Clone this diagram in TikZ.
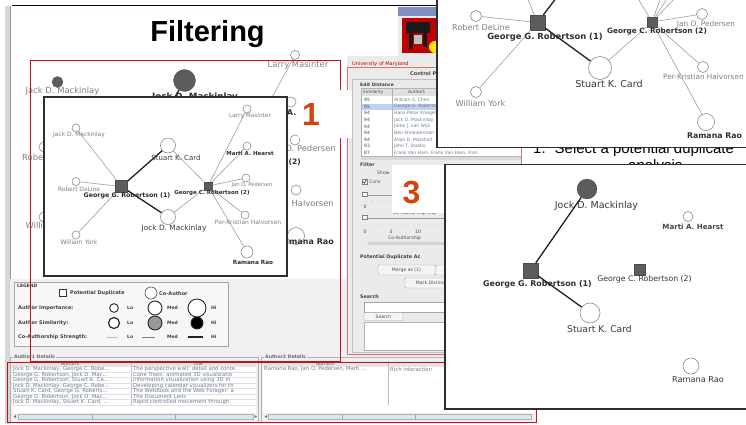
\documentclass[tikz,border=0pt]{standalone}
\usepackage{fontspec}
\setmainfont{Liberation Sans}
\newfontfamily\dv{DejaVu Sans}
\newcommand\fsz[1]{\fontsize{#1}{#1}\selectfont}
\definecolor{dupfill}{HTML}{5C5C5C}
\definecolor{redA}{HTML}{C8101A}
\definecolor{redB}{HTML}{E07070}
\definecolor{numred}{HTML}{D4420E}
\definecolor{rowtxt}{HTML}{6F7C92}
\definecolor{selrow}{HTML}{BFD2EC}
\definecolor{scrl}{HTML}{DCE6F2}
\definecolor{hdr}{HTML}{7D8FC4}
\begin{document}
\begin{tikzpicture}[x=1pt,y=-1pt,
  coauth/.style={circle, draw=black!45, fill=white, line width=0.6pt, inner sep=0pt, minimum size=#1},
  dupl/.style={rectangle, fill=dupfill, draw=black!70, line width=0.3pt, inner sep=0pt, minimum size=#1},
  bigauth/.style={circle, fill=dupfill, draw=black!70, line width=0.3pt, inner sep=0pt, minimum size=#1},
  gedge/.style={draw=black!38, line width=0.6pt},
  sedge/.style={draw=black!88, line width=1.3pt},
  glab/.style={inner sep=0pt, text=black!50, font=\dv\fsz{#1}},
  dlab/.style={inner sep=0pt, text=black!78, font=\dv\fsz{#1}},
  blab/.style={inner sep=0pt, text=black!82, font=\dv\bfseries\fsz{#1}},
  ovbox/.style={draw=black!82, line width=1.3pt, fill=white},
  redframe/.style={draw=redA, line width=0.9pt},
  ui/.style={inner sep=0pt, anchor=west, text=black!70, font=\dv\fsz{#1}},
  uib/.style={inner sep=0pt, anchor=west, text=black!75, font=\dv\bfseries\fsz{#1}},
  rowt/.style={inner sep=0pt, anchor=west, text=rowtxt, font=\dv\fsz{5.3}},
  btn/.style={draw=black!35, fill=black!4, rounded corners=1pt, inner sep=0pt, text=black!70, font=\dv\fsz{4.6}},
  numlab/.style={inner sep=0pt, anchor=base, text=numred, font=\bfseries\fsz{32}},
  legc/.style={circle, draw=black!85, line width=0.9pt, fill=white, inner sep=0pt, minimum size=#1},
]
\useasboundingbox (0,0) rectangle (746,424);
\fill[white] (0,0) rectangle (746,424);

% ---------- application window ----------
\fill[black!16] (5,6) rectangle (10,424);
\draw[black!40, line width=0.5pt] (10.2,6) -- (10.2,424);
\draw[black!85!blue, line width=1.6pt] (12,5.5) -- (437,5.5);
\fill[black!6] (10,279) rectangle (347,424);
\fill[black!6] (347,356) rectangle (536,424);

% logo
\fill[hdr] (398,7) rectangle (437,16);
\fill[black!8] (398,16) rectangle (437,56);
\fill[red!75!black] (402,18) rectangle (437,53);
\fill[black!90] (406,22) rectangle (430,33);
\fill[black!90] (409,33) rectangle (413,49);
\fill[black!90] (423,33) rectangle (427,47);
\fill[black!25] (414,35) rectangle (422,44);
\begin{scope}
  \clip (402,18) rectangle (437,53);
  \fill[yellow!90!orange] (435,47) circle (6);
\end{scope}

% ---------- background graph ----------
\node[bigauth=22] (bgJock) at (184.5,80.5) {};
\coordinate (bgG1) at (150,140);
\draw[sedge] (bgJock) -- (bgG1);
\node[blab=8.7, anchor=base] (bgJockL) at (195,99.5) {Jock D. Mackinlay};
\node[bigauth=11] (bgJack) at (57.5,82) {};
\node[glab=8.4] (bgJackL) at (62.5,91) {Jack D. Mackinlay};
\node[coauth=9] (bgLarry) at (295,55) {};
\coordinate (bgG2) at (224,186);
\draw[gedge] (bgLarry) -- (bgG2);
\node[glab=8.4] (bgLarryL) at (298,65) {Larry Masinter};
\node[coauth=10] (bgRob) at (44,147) {};
\node[glab=8.4] (bgRobL) at (52,157) {Robert DeLine};
\node[coauth=10] (bgWill) at (44,217) {};
\node[glab=8.4] (bgWillL) at (51,225) {William York};
\node[coauth=10] (bgMarti) at (291,102) {};
\node[blab=8, anchor=east] (bgMartiL) at (296.5,113) {A.};
\node[coauth=10] (bgJan) at (295,140) {};
\node[glab=8.4, anchor=east] (bgJanL) at (336,149) {Jan O. Pedersen};
\node[blab=7.5, anchor=east] (bgG2L) at (301,162) {George C. Robertson (2)};
\node[coauth=10] (bgPer) at (296,190) {};
\node[glab=8.4, anchor=east] (bgPerL) at (334,203) {Per-Kristian Halvorsen};
\node[coauth=17] (bgRam) at (296,236) {};
\node[blab=8, anchor=east] (bgRamL) at (334,242) {Ramana Rao};

% ---------- control panel ----------
\fill[black!8] (347,56) rectangle (521,356);
\node[ui=5, text=red!75!black] (cpUni) at (352,64) {University of Maryland};
\node[uib=5] (cpTitle) at (410,74) {Control Panel};
\draw[black!25] (352,79) rectangle (521,352);
\node[uib=4.5] (cpEdit) at (360,84.5) {Edit Distance};
\fill[white] (361,88.5) rectangle (521,156);
\fill[black!12] (361,88.6) rectangle (521,96);
\fill[selrow] (361,103.5) rectangle (521,109.8);
\draw[black!30, line width=0.4pt] (361,88.5) rectangle (521,156);
\draw[black!30, line width=0.3pt] (392,88.5) -- (392,156);
\node[ui=4.3] (cpH1) at (363,92.3) {Similarity};
\node[ui=4.3] (cpH2) at (408,92.3) {Author1};
\foreach \i/\s/\n in {0/95/{William S. Chen},1/95/{George G. Robertson},2/94/{Hans-Peter Kriegel},3/94/{Jack D. Mackinlay},4/94/{Jarke J. van Wijk},5/94/{Ben Shneiderman},6/94/{Allan D. Marshall},7/93/{John T. Stasko},8/87/{Frank Van Ham, Frank Van Ham, Fran}}{
  \pgfmathsetmacro\yy{100+6.6*\i}
  \node[ui=4.5] (cps\i) at (364,\yy) {\s};
  \node[ui=4.5, text=rowtxt] (cpa\i) at (394,\yy) {\n};
}
\fill[black!15] (361,156.5) rectangle (521,160);
\node[uib=4.8] (cpFilter) at (360,165) {Filter};
\node[ui=4.6] (cpShow) at (377,172.5) {Show};
\node[draw=black!50, fill=white, inner sep=0pt, minimum size=5pt, line width=0.4pt] (cpChk) at (364.5,181.5) {};
\draw[black!80, line width=0.6pt] (362.8,181.5) -- (364.3,183.2) -- (366.4,179.6);
\node[ui=4.6] (cpCons) at (369,181.5) {Cons};
\draw[black!40, line width=0.8pt] (362,195) -- (445,195);
\filldraw[fill=white, draw=black!50, line width=0.4pt] (362,192.5) rectangle (367,196.5);
\foreach \x in {366,372,...,444}{\fill[black!45] (\x,201.5) circle (0.45);}
\node[ui=4.6] (cpZ1) at (363.5,207) {0};
\node[ui=4.6] (cpCAI) at (393,213) {Co-Authorship Imp};
\draw[black!40, line width=0.8pt] (362,218) -- (445,218);
\filldraw[fill=white, draw=black!50, line width=0.4pt] (362,215.5) rectangle (367,219.5);
\foreach \x in {366,372,...,444}{\fill[black!45] (\x,225) circle (0.45);}
\node[ui=4.6] (cpZ2) at (363.5,232) {0};
\node[ui=4.6] (cpF5) at (389.5,232) {5};
\node[ui=4.6] (cpF10) at (415,232) {10};
\node[ui=4.6] (cpCAS) at (388,238) {Co-Authorship};
\fill[black!18] (368,241.5) rectangle (445,244.5);
\node[uib=4.8] (cpPDA) at (360,257) {Potential Duplicate Ac};
\node[btn, minimum width=57pt, minimum height=10pt] (cpMerge1) at (406.5,270) {Merge as (1)};
\node[btn, minimum width=20pt, minimum height=10pt] (cpMerge2) at (446,270) {};
\node[btn, minimum width=52pt, minimum height=10pt] (cpMark) at (431,283) {Mark Distinct};
\node[uib=4.8] (cpSearchL) at (360,297) {Search};
\draw[black!35, fill=white] (364,302) rectangle (446,312);
\node[btn, minimum width=39pt, minimum height=8pt] (cpSearchB) at (383.5,316.5) {Search};
\draw[black!30, fill=white] (364,322) rectangle (446,350);

% ---------- legend ----------
\draw[black!35, fill=black!3] (14,282) rectangle (228,346);
\node[uib=4.5] (legT) at (17,286) {LEGEND};
\node[draw=black!80, fill=white, inner sep=0pt, minimum size=7pt, line width=0.6pt] (legSq) at (63,293) {};
\node[uib=5] (legPD) at (70,293.5) {Potential Duplicate};
\node[legc=12, line width=0.6pt, draw=black!70] (legCA) at (151,293) {};
\node[uib=5] (legCAt) at (159,293.5) {Co-Author};
\node[uib=5] (legAI) at (18,308) {Author Importance:};
\node[uib=5] (legAS) at (18,323) {Author Similarity:};
\node[uib=5] (legCS) at (18,337) {Co-Authorship Strength:};
\node[legc=8.7] (legI1) at (114,308) {};
\node[legc=14] (legI2) at (155,308) {};
\node[legc=18] (legI3) at (197,308) {};
\node[legc=11, line width=1.2pt] (legS1) at (114,323) {};
\node[legc=14, fill=black!40] (legS2) at (155,323) {};
\node[legc=12, fill=black] (legS3) at (197,323) {};
\draw[black!25, line width=0.5pt] (106,337) -- (118,337);
\draw[black!50, line width=0.9pt] (142,337) -- (155,337);
\draw[black!85, line width=1.6pt] (188,337) -- (203,337);
\foreach \yy/\k in {308/a,323/b,337/c}{
  \node[uib=4.5] (lo\k) at (127,\yy) {Lo};
  \node[uib=4.5] (me\k) at (167,\yy) {Med};
  \node[uib=4.5] (hi\k) at (211,\yy) {Hi};
}

% ---------- author details ----------
\draw[black!30] (10,357) rectangle (258,422);
\node[uib=4.6, fill=black!6, inner xsep=1pt, text=black!60] (d1T) at (13,357) {Author1 Details};
\fill[white] (12,361) rectangle (256,413);
\fill[black!10] (12,361) rectangle (256,366.5);
\draw[black!25, line width=0.3pt] (131,361) -- (131,405);
\node[ui=4.6, anchor=center] (d1H1) at (70,363.8) {Authors};
\node[ui=4.6, anchor=center] (d1H2) at (198,363.8) {Title};
\begin{scope}
\clip (12,366) rectangle (256,406);
\foreach \i/\a/\t in {0/{Jock D. Mackinlay, George C. Robe...}/{The perspective wall: detail and conte},
  1/{George G. Robertson, Jock D. Mac...}/{Cone Trees: animated 3D visualizatio},
  2/{George G. Robertson, Stuart K. Ca...}/{Information visualization using 3D in},
  3/{Jock D. Mackinlay, George C. Robe...}/{Developing calendar visualizers for th},
  4/{Stuart K. Card, George G. Roberts...}/{The WebBook and the Web Forager: a},
  5/{George G. Robertson, Jock D. Mac...}/{The Document Lens},
  6/{Jock D. Mackinlay, Stuart K. Card, ...}/{Rapid controlled movement through}}{
  \pgfmathsetmacro\yy{369.3+5.5*\i}
  \draw[black!12, line width=0.3pt] (12,\yy+2.75) -- (256,\yy+2.75);
  \node[rowt] (d1a\i) at (13,\yy) {\a};
  \node[rowt] (d1t\i) at (133,\yy) {\t};
}
\end{scope}
\draw[black!30, fill=scrl] (18,414) rectangle (253,419);
\draw[black!35] (92,414) -- (92,419) (175,414) -- (175,419);
\fill[black!55] (13.5,416.5) -- (16,415) -- (16,418) -- cycle;
\fill[black!55] (257,416.5) -- (254.5,415) -- (254.5,418) -- cycle;

\draw[black!30] (261,357) rectangle (536,422);
\node[uib=4.6, fill=black!6, inner xsep=1pt, text=black!60] (d2T) at (264,357) {Author2 Details};
\fill[white] (263,361) rectangle (534,413);
\fill[black!10] (263,361) rectangle (534,366.5);
\draw[black!25, line width=0.3pt] (388,361) -- (388,405);
\node[ui=4.6, anchor=center] (d2H1) at (325,363.8) {Authors};
\node[rowt] (d2a0) at (264,369.3) {Ramana Rao, Jan O. Pedersen, Marti ...};
\node[rowt] (d2t0) at (390,369.3) {Rich interaction};
\draw[black!30, fill=scrl] (268,414) rectangle (531,419);
\draw[black!35] (342,414) -- (342,419) (415,414) -- (415,419);
\fill[black!55] (264.5,416.5) -- (267,415) -- (267,418) -- cycle;

% ---------- red annotation frames ----------
\draw[redframe] (30,60) rectangle (340,361.5);
\draw[draw=redB, line width=0.9pt] (347.5,67) rectangle (521,354);
\draw[redframe] (7,362.5) rectangle (536,422);

% ---------- slide text and title ----------
\node[anchor=base, inner sep=0pt, font=\bfseries\fsz{29}] (title) at (207.5,41) {Filtering};
\node[anchor=base west, inner sep=0pt, font=\fsz{15}] (sel1) at (533,153.5) {1.\hspace{9pt}Select a potential duplicate};
\node[anchor=base west, inner sep=0pt, font=\fsz{15}] (sel2) at (628,170.5) {analysis};

\fill[white] (298,90) rectangle (352,138);
\fill[white] (392,165) rectangle (445,213);

% ---------- overlay box 1 ----------
\draw[ovbox] (44,97) rectangle (287,276);
\node[dupl=12] (G1a) at (121.5,186.5) {};
\node[dupl=8.5] (G2a) at (208,186) {};
\node[coauth=15] (Sa) at (168,145.5) {};
\node[coauth=15] (Ja) at (168,217) {};
\node[coauth=8] (Jka) at (76,128) {};
\node[coauth=8] (Ra) at (76,181.5) {};
\node[coauth=8] (Wa) at (76,235) {};
\node[coauth=8] (La) at (247,109) {};
\node[coauth=8] (Ma) at (247,146) {};
\node[coauth=8] (Pa) at (246,178) {};
\node[coauth=8] (Ha) at (245,215) {};
\node[coauth=12] (Rra) at (247,252) {};
\foreach \n in {Jka,Ra,Wa}{\draw[gedge] (G1a) -- (\n);}
\draw[sedge] (G1a) -- (Sa);
\draw[sedge] (G1a) -- (Ja);
\draw[gedge] (Sa) -- (G2a);
\draw[gedge] (Ja) -- (G2a);
\foreach \n in {La,Ma,Pa,Ha,Rra}{\draw[gedge] (G2a) -- (\n);}
\node[glab=5.9] (JkaL) at (79,135) {Jack D. Mackinlay};
\node[glab=5.9] (RaL) at (79,189) {Robert DeLine};
\node[glab=6.1] (WaL) at (79,242) {William York};
\node[blab=6.3] (G1aL) at (127,196) {George G. Robertson (1)};
\node[blab=5.5] (G2aL) at (212,193) {George C. Robertson (2)};
\node[dlab=7] (SaL) at (176,158) {Stuart K. Card};
\node[dlab=7.4] (JaL) at (174,228.5) {Jock D. Mackinlay};
\node[glab=5.8] (LaL) at (250,116) {Larry Masinter};
\node[blab=5.5] (MaL) at (250,153) {Marti A. Hearst};
\node[glab=5.2] (PaL) at (252,185) {Jan O. Pedersen};
\node[glab=6] (HaL) at (248,222) {Per-Kristian Halvorsen};
\node[blab=5.7] (RraL) at (253,262) {Ramana Rao};

% ---------- overlay box 2 ----------
\draw[ovbox] (437,-5) rectangle (752,147.5);
\begin{scope}
\clip (437.7,-5) rectangle (746,146.8);
\node[dupl=15] (G1b) at (537.5,22.5) {};
\node[dupl=10.5] (G2b) at (652,22) {};
\node[coauth=11] (Rb) at (476,16) {};
\node[coauth=11] (Wb) at (476,92) {};
\node[coauth=23] (Sb) at (600,68) {};
\node[coauth=11] (Pb) at (702,14) {};
\node[coauth=11] (Hb) at (703,67) {};
\node[coauth=17] (Rrb) at (706,122) {};
\coordinate (tb1) at (527,-3);
\coordinate (tb2) at (557,-3);
\coordinate (tb3) at (637,-3);
\coordinate (tb4) at (661,-3);
\coordinate (tb5) at (668,-3);
\coordinate (tb6) at (676,-3);
\draw[gedge] (G1b) -- (Rb);
\draw[gedge] (G1b) -- (Wb);
\draw[gedge] (G1b) -- (tb1);
\draw[sedge] (G1b) -- (tb2);
\draw[sedge] (G1b) -- (Sb);
\draw[gedge] (Sb) -- (G2b);
\foreach \n in {Pb,Hb,Rrb,tb3,tb4,tb5,tb6}{\draw[gedge] (G2b) -- (\n);}
\node[glab=8.1] (RbL) at (481,27) {Robert DeLine};
\node[blab=8.4] (G1bL) at (545,37) {George G. Robertson (1)};
\node[blab=7.3] (G2bL) at (657,32) {George C. Robertson (2)};
\node[glab=7.4] (PbL) at (706,24.5) {Jan O. Pedersen};
\node[glab=8.2] (WbL) at (480.5,103) {William York};
\node[dlab=9.6] (SbL) at (609,83.5) {Stuart K. Card};
\node[glab=7.3, anchor=west] (HbL) at (663,77) {Per-Kristian Halvorsen};
\node[blab=7.8] (RrbL) at (714.5,136) {Ramana Rao};
\end{scope}

% ---------- overlay box 3 ----------
\draw[ovbox] (445,164.5) rectangle (752,409);
\node[bigauth=20] (Jc) at (587,189) {};
\node[coauth=10] (Mc) at (688,216.5) {};
\node[dupl=15] (G1c) at (530.5,270.5) {};
\node[dupl=10.5] (G2c) at (639.5,269.5) {};
\node[coauth=20] (Sc) at (590,313) {};
\node[coauth=16] (Rrc) at (691,366) {};
\draw[sedge] (G1c) -- (Jc);
\draw[sedge] (G1c) -- (Sc);
\node[dlab=9.5] (JcL) at (596.5,205.5) {Jock D. Mackinlay};
\node[blab=7.1, text=black!72] (McL) at (693,227) {Marti A. Hearst};
\node[blab=7.9] (G1cL) at (537.5,284.5) {George G. Robertson (1)};
\node[dlab=7.8] (G2cL) at (644.5,279.5) {George C. Robertson (2)};
\node[dlab=9.2] (ScL) at (599.5,329.5) {Stuart K. Card};
\node[dlab=8.2] (RrcL) at (698,379.5) {Ramana Rao};

% ---------- step numbers ----------
\node[numlab] (num1) at (311,125) {1};
\node[numlab] (num3) at (411.5,203) {3};
\end{tikzpicture}
\end{document}
